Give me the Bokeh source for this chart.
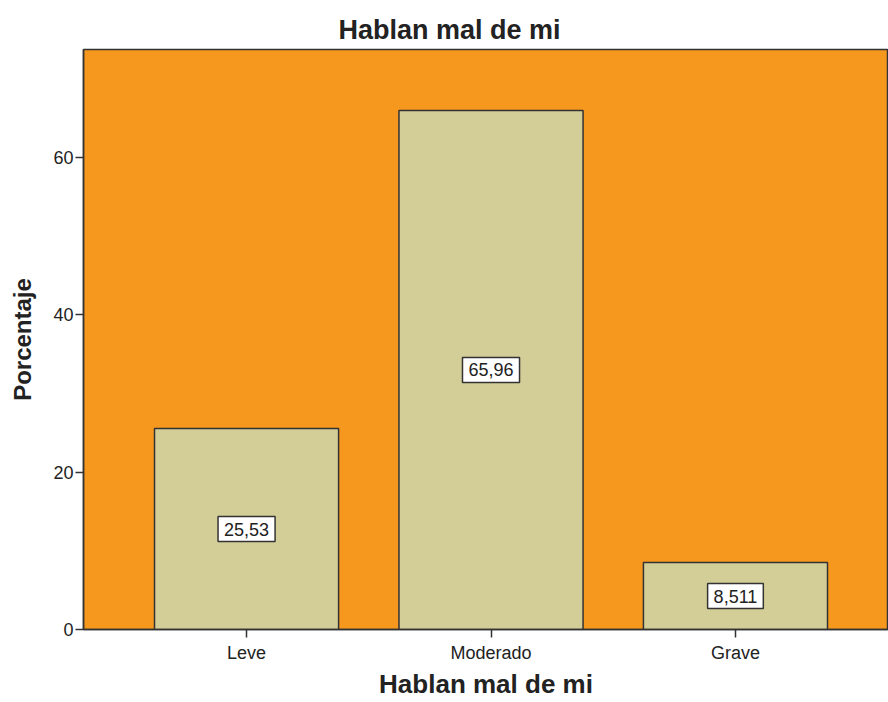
from bokeh.plotting import figure
from bokeh.models import ColumnDataSource, FixedTicker, Range1d
from bokeh.core.properties import value
from bokeh.embed import file_html
from bokeh.resources import INLINE

categories = ["Leve", "Moderado", "Grave"]
percentages = [25.53, 65.96, 8.511]
value_labels = ["25,53", "65,96", "8,511"]
y_ticks = [0, 20, 40, 60]

xpos = [i + 1 for i in range(len(categories))]
src = ColumnDataSource(dict(
    x=xpos,
    top=percentages,
    mid=[v / 2 for v in percentages],
    lab=value_labels,
))

FONT = "Liberation Sans"
TXT = "#222222"

p = figure(width=888, height=702, output_backend="svg", toolbar_location=None,
           x_range=Range1d(0.333, 3.626), y_range=Range1d(0, 73.7),
           min_border_left=83, min_border_right=0, min_border_top=49, min_border_bottom=73,
           background_fill_color="#F7981E", border_fill_color="white",
           outline_line_color="#333333", outline_line_width=1.5)

p.title.text = "Hablan mal de mi"
p.title.text_font = FONT
p.title.text_font_size = "27px"
p.title.text_font_style = "bold"
p.title.text_color = TXT
p.title.align = "left"
p.title.offset = 255

p.vbar(x="x", top="top", bottom=0, width=0.753, source=src,
       fill_color="#D3CE97", line_color="#333333", line_width=1.5)

p.text(x="x", y="mid", text="lab", source=src,
       text_align="center", text_baseline="middle",
       text_font=value(FONT), text_font_size="18px", text_color=TXT,
       background_fill_color="white", border_line_color="#333333",
       border_line_width=1.5,
       padding=dict(left=6, right=6, top=6, bottom=6))

p.grid.visible = False

p.xaxis.ticker = FixedTicker(ticks=xpos)
p.xaxis.major_label_overrides = {x: c for x, c in zip(xpos, categories)}
p.xaxis.minor_tick_line_color = None
p.yaxis.ticker = FixedTicker(ticks=y_ticks)
p.yaxis.minor_tick_line_color = None

for ax in (p.xaxis, p.yaxis):
    ax.axis_line_color = "#333333"
    ax.axis_line_width = 1.5
    ax.major_tick_line_color = "#333333"
    ax.major_tick_line_width = 1.5
    ax.major_tick_out = 8
    ax.major_tick_in = 0
    ax.major_label_text_font = FONT
    ax.major_label_text_font_size = "18px"
    ax.major_label_text_color = TXT
    ax.axis_label_text_font = FONT
    ax.axis_label_text_font_style = "bold"
    ax.axis_label_text_color = TXT

p.xaxis.axis_label = "Hablan mal de mi"
p.yaxis.axis_label = "Porcentaje"
p.xaxis.axis_label_text_font_size = "26px"
p.yaxis.axis_label_text_font_size = "24px"
p.xaxis.major_label_standoff = 5
p.xaxis.axis_label_standoff = 3
p.yaxis.major_label_standoff = 2
p.yaxis.axis_label_standoff = 14

open("out.html", "w").write(file_html(p, INLINE))
